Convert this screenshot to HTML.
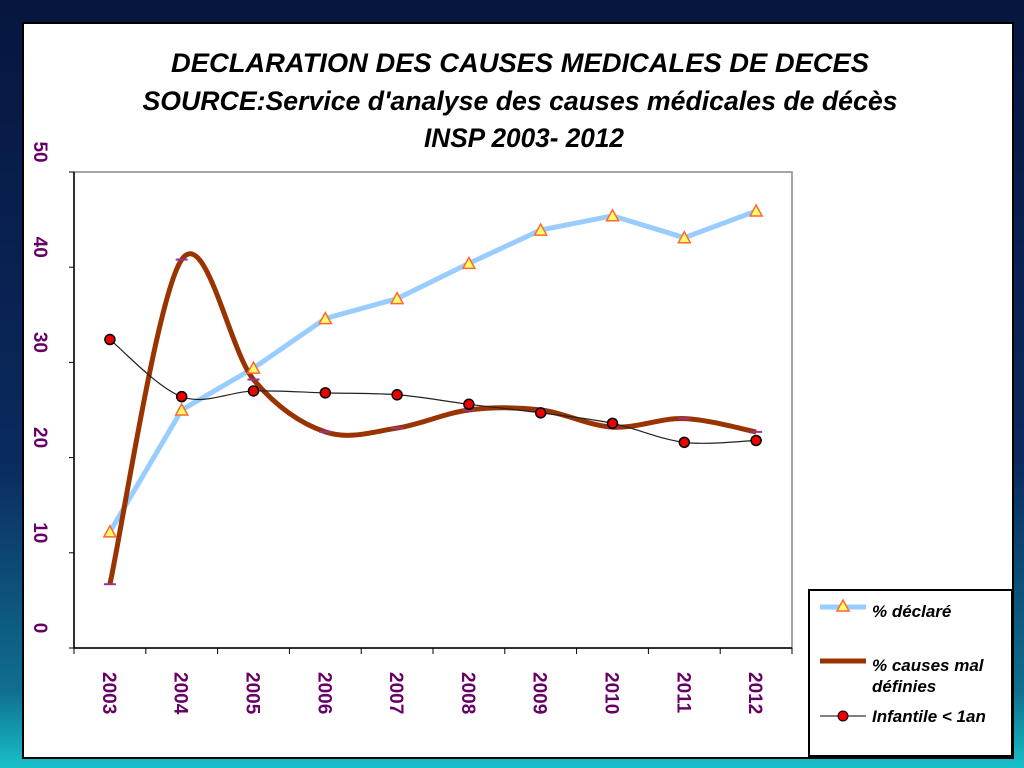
<!DOCTYPE html>
<html><head><meta charset="utf-8"><style>
body{margin:0;width:1024px;height:768px;overflow:hidden;background:linear-gradient(180deg,#06163f 0%,#0a2a5e 60%,#0f6f8f 90%,#18c0c8 100%);font-family:"Liberation Sans",sans-serif;}
#panel{position:absolute;left:22px;top:22px;width:988px;height:733px;background:#fff;border:2px solid #000;}
</style></head><body>
<div id="panel"></div>
<svg id="chart" width="1024" height="768" style="position:absolute;left:0;top:0">
<g font-family="Liberation Sans, sans-serif" font-style="italic" font-weight="bold" font-size="27" text-anchor="middle" fill="#000">
<text x="520" y="72" textLength="698" lengthAdjust="spacingAndGlyphs">DECLARATION DES CAUSES MEDICALES DE DECES</text>
<text x="520" y="110" textLength="755" lengthAdjust="spacingAndGlyphs">SOURCE:Service d'analyse des causes médicales de décès</text>
<text x="524" y="147" textLength="200" lengthAdjust="spacingAndGlyphs">INSP 2003- 2012</text>
</g>
<rect x="74" y="172" width="718" height="476" fill="none" stroke="#888" stroke-width="1.5"/>
<g id="axes"></g><g id="series"></g>
<g>
<rect x="809" y="590" width="203" height="166" fill="#fff" stroke="#000" stroke-width="2"/>
<line x1="820" y1="607" x2="866" y2="607" stroke="#99ccff" stroke-width="5"/>
<polygon points="843,600 849,611 837,611" fill="#ffff66" stroke="#ff6633" stroke-width="1.5"/>
<text x="872" y="617" font-size="17" font-style="italic" font-weight="bold">% déclaré</text>
<line x1="820" y1="661" x2="866" y2="661" stroke="#993300" stroke-width="5"/>
<text x="872" y="671" font-size="17" font-style="italic" font-weight="bold">% causes mal</text>
<text x="872" y="692" font-size="17" font-style="italic" font-weight="bold">définies</text>
<line x1="820" y1="716" x2="866" y2="716" stroke="#000" stroke-width="1"/>
<circle cx="843" cy="716" r="5" fill="#e00" stroke="#000"/>
<text x="872" y="722" font-size="17" font-style="italic" font-weight="bold">Infantile &lt; 1an</text>
</g>
</svg>
<script>
const categories=["2003","2004","2005","2006","2007","2008","2009","2010","2011","2012"];
const declare=[12.2,25,29.4,34.6,36.7,40.4,43.9,45.4,43.1,45.9];
const malDefinies=[6.7,40.8,28.2,22.7,23.1,25,25,23.2,24.1,22.7];
const infantile=[32.4,26.4,27,26.8,26.6,25.6,24.7,23.6,21.6,21.8];
const yTicks=[0,10,20,30,40,50];
const NS="http://www.w3.org/2000/svg";
const X0=74,X1=792,Y0=648,Y1=172,YMAX=50;
const bw=(X1-X0)/categories.length;
function xs(i){return X0+bw*(i+0.5);}
function ys(v){return Y0-(v/YMAX)*(Y0-Y1);}
function mk(t,a,p){const e=document.createElementNS(NS,t);for(const k in a)e.setAttribute(k,a[k]);p.appendChild(e);return e;}
const axes=document.getElementById('axes'),ser=document.getElementById('series');
const ya=mk('line',{x1:X0,y1:Y1,x2:X0,y2:Y0,stroke:'#000','stroke-width':1.5},axes);


const xa=mk('line',{x1:X0,y1:Y0,x2:X1,y2:Y0,stroke:'#000','stroke-width':1.5},axes);


yTicks.forEach(v=>{const y=ys(v);
 mk('line',{x1:X0-5,y1:y,x2:X0,y2:y,stroke:'#000'},axes);
 const t=mk('text',{x:0,y:0,transform:`translate(34,${y-20}) rotate(90)`,'text-anchor':'middle','font-size':19,'font-weight':'bold',fill:'#660066'},axes);
 t.textContent=v;
 
 
});
for(let i=0;i<=categories.length;i++){const x=X0+bw*i;mk('line',{x1:x,y1:Y0,x2:x,y2:Y0+6,stroke:'#000'},axes);}
categories.forEach((c,i)=>{
 const t=mk('text',{x:0,y:0,transform:`translate(${xs(i)-7},672) rotate(90)`,'font-size':19,'font-weight':'bold',fill:'#660066'},axes);
 t.textContent=c;
 
 
});
function smooth(vals){const p=vals.map((v,i)=>[xs(i),ys(v)]);let d=`M${p[0][0]},${p[0][1]}`;
 for(let i=0;i<p.length-1;i++){const a=p[i-1]||p[i],b=p[i],c=p[i+1],e=p[i+2]||c;
  d+=` C${b[0]+(c[0]-a[0])/6},${b[1]+(c[1]-a[1])/6} ${c[0]-(e[0]-b[0])/6},${c[1]-(e[1]-b[1])/6} ${c[0]},${c[1]}`;}
 return d;}
function line(vals){return 'M'+vals.map((v,i)=>xs(i)+','+ys(v)).join(' L');}
const l1=mk('path',{d:line(declare),fill:'none',stroke:'#99ccff','stroke-width':5},ser);


const l2=mk('path',{d:smooth(malDefinies),fill:'none',stroke:'#993300','stroke-width':5},ser);


const l3=mk('path',{d:smooth(infantile),fill:'none',stroke:'#222','stroke-width':1.2},ser);


declare.forEach((v,i)=>{const x=xs(i),y=ys(v);
 const m=mk('polygon',{points:`${x},${y-6} ${x+6},${y+5} ${x-6},${y+5}`,fill:'#ffff66',stroke:'#ff6633','stroke-width':1.5},ser);
 
 
});
malDefinies.forEach((v,i)=>{
 const m=mk('line',{x1:xs(i)-6,y1:ys(v),x2:xs(i)+6,y2:ys(v),stroke:'#993399','stroke-width':2},ser);
 
 
});
infantile.forEach((v,i)=>{
 const m=mk('circle',{cx:xs(i),cy:ys(v),r:5,fill:'#e00',stroke:'#000','stroke-width':1.5},ser);
 
 
});
</script>
</body></html>
